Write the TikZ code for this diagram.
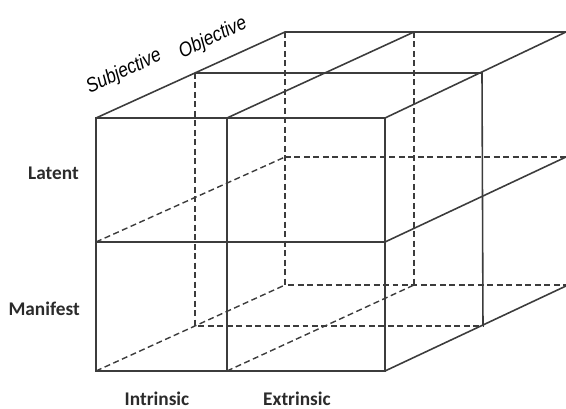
\documentclass[tikz,border=0pt]{standalone}
\usepackage{fontspec}
\setmainfont{Carlito}
\newfontfamily\slantFont{Liberation Sans}
\usepackage{tikz}
\definecolor{edgeGray}{HTML}{3C3C3C}
\definecolor{labelDark}{HTML}{2B2B2B}

\begin{document}
\begin{tikzpicture}[x=0.02cm,y=-0.02cm,
  edge/.style={edgeGray,line width=0.9pt},
  hidden/.style={edgeGray,line width=0.8pt,dash pattern=on 3.4pt off 2pt},
  rowcol/.style={labelDark,font=\bfseries\fontsize{11}{13}\selectfont},
  topLabel/.style={black,rotate=25,xscale=0.86,inner sep=1pt,font=\slantFont\itshape\fontsize{11.5}{13}\selectfont}]
\useasboundingbox (0,0) rectangle (566,409);
% 1) back plane (hidden)
\draw[hidden] (285,32)--(285,285)--(566,285);
\draw[hidden] (414,32)--(414,285);
\draw[hidden] (285,157)--(566,157);
% 2) middle plane
\draw[hidden] (195,73)--(195,326)--(483,326);
\draw[edge] (195,73)--(482,73)--(483,326);
% 3) depth edges
\draw[hidden] (96,242)--(285,157);
\draw[hidden] (96,371)--(285,285);
\draw[hidden] (227,371)--(414,285);
\draw[edge] (96,118)--(285,32)--(566,32);
\draw[edge] (227,118)--(414,32);
\draw[edge] (385,118)--(566,32);
\draw[edge] (385,242)--(566,157);
\draw[edge] (385,371)--(566,286);
% 4) front face
\draw[edge] (96,118) rectangle (385,371);
\draw[edge] (96,242)--(385,242);
\draw[edge] (227,118)--(227,371);
% 5) labels
\node[rowcol,anchor=east] (latent) at (85,173) {Latent};
\node[rowcol,anchor=east] (manifest) at (86,309) {Manifest};
\node[rowcol] (intrinsic) at (157,399) {Intrinsic};
\node[rowcol] (extrinsic) at (297,399) {Extrinsic};
\node[topLabel] (subj) at (124,72) {Subjective};
\node[topLabel] (obj) at (213,38) {Objective};
\end{tikzpicture}
\end{document}
